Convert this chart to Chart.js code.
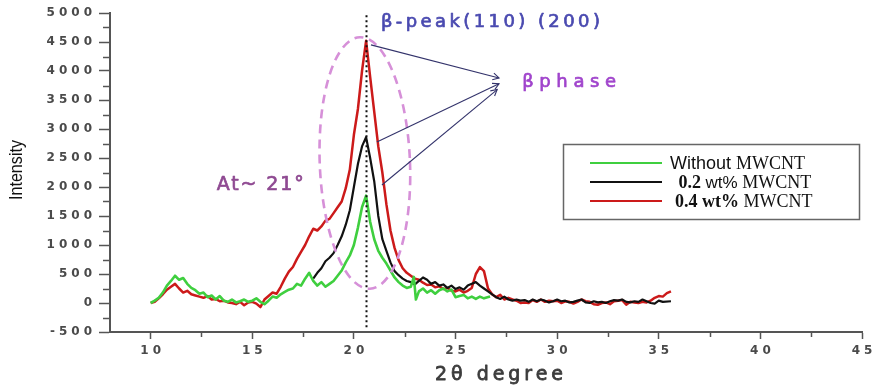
<!DOCTYPE html>
<html><head><meta charset="utf-8">
<script src="https://cdn.jsdelivr.net/npm/chart.js@4/dist/chart.umd.min.js"></script>
<style>html,body{margin:0;padding:0;background:#fff}#wrap{width:874px;height:386px;position:relative}</style>
</head><body><div id="wrap"><canvas id="c"></canvas></div>
<script>
// ---- data ----
const seriesNames = ['Without MWCNT', '0.2 wt% MWCNT', '0.4 wt% MWCNT'];
const xTickValues = [10, 15, 20, 25, 30, 35, 40, 45];
const yTickValues = [-500, 0, 500, 1000, 1500, 2000, 2500, 3000, 3500, 4000, 4500, 5000];

const greenAngle = [10.0,10.2,10.4,10.6,10.8,11.0,11.2,11.4,11.6,11.8,12.0,12.2,12.4,12.6,12.8,13.0,13.2,13.4,13.6,13.8,14.0,14.2,14.4,14.6,14.8,15.0,15.2,15.4,15.6,15.8,16.0,16.2,16.4,16.6,16.8,17.0,17.2,17.4,17.6,17.8,18.0,18.2,18.4,18.6,18.8,19.0,19.2,19.4,19.6,19.8,20.0,20.2,20.4,20.6,20.8,21.0,21.2,21.4,21.6,21.8,22.0,22.2,22.4,22.6,22.8,22.95,23.05,23.2,23.4,23.6,23.8,24.0,24.2,24.4,24.6,24.8,25.0,25.2,25.4,25.6,25.8,26.0,26.2,26.4,26.7];
const greenIntensity = [0,40,90,180,300,380,470,400,430,330,260,220,160,180,100,130,60,120,40,20,60,10,30,60,20,40,80,20,-20,40,110,90,150,190,230,250,330,300,420,520,380,300,360,280,330,380,470,560,700,820,1000,1300,1650,1850,1400,1100,900,780,680,560,440,360,300,260,280,450,60,200,250,180,220,160,220,250,200,230,100,120,140,80,110,70,110,80,110];

const blackAngle = [18.0,18.2,18.4,18.6,18.8,19.0,19.2,19.4,19.6,19.8,20.0,20.2,20.4,20.6,20.8,21.0,21.2,21.4,21.6,21.8,22.0,22.2,22.4,22.6,22.8,23.0,23.2,23.4,23.6,23.8,24.0,24.2,24.4,24.6,24.8,25.0,25.2,25.4,25.6,25.8,26.0,26.2,26.4,26.6,26.8,27.0,27.2,27.4,27.6,27.8,28.0,28.2,28.4,28.6,28.8,29.0,29.2,29.4,29.6,29.8,30.0,30.2,30.4,30.6,30.8,31.0,31.2,31.4,31.6,31.8,32.0,32.2,32.4,32.6,32.8,33.0,33.2,33.4,33.6,33.8,34.0,34.2,34.4,34.6,34.8,35.0,35.2,35.6];
const blackIntensity = [420,520,600,720,780,860,1000,1150,1350,1600,2000,2400,2700,2860,2500,2100,1500,1100,900,700,550,480,420,380,360,320,380,440,400,330,360,300,320,260,300,240,270,230,300,330,360,300,250,200,150,100,70,110,60,40,60,40,50,20,60,30,60,40,10,30,60,30,40,10,20,40,60,10,0,30,10,20,0,30,50,40,60,20,10,30,20,60,30,0,-10,40,20,30];

const redAngle = [10.0,10.2,10.4,10.6,10.8,11.0,11.2,11.4,11.6,11.8,12.0,12.2,12.4,12.6,12.8,13.0,13.2,13.4,13.6,13.8,14.0,14.2,14.4,14.6,14.8,15.0,15.2,15.4,15.6,15.8,16.0,16.2,16.4,16.6,16.8,17.0,17.2,17.4,17.6,17.8,18.0,18.2,18.4,18.6,18.8,19.0,19.2,19.4,19.6,19.8,20.0,20.2,20.4,20.6,20.8,21.0,21.2,21.4,21.6,21.8,22.0,22.2,22.4,22.6,22.8,23.0,23.2,23.4,23.6,23.8,24.0,24.2,24.4,24.6,24.8,25.0,25.2,25.4,25.6,25.8,26.0,26.2,26.4,26.6,26.8,27.0,27.2,27.4,27.6,27.8,28.0,28.2,28.4,28.6,28.8,29.0,29.2,29.4,29.6,29.8,30.0,30.2,30.4,30.6,30.8,31.0,31.2,31.4,31.6,31.8,32.0,32.2,32.4,32.6,32.8,33.0,33.2,33.4,33.6,33.8,34.0,34.2,34.4,34.6,34.8,35.0,35.2,35.4,35.6];
const redIntensity = [0,20,80,150,230,280,330,250,180,210,150,130,110,90,120,60,70,30,40,10,0,-20,20,-40,10,20,-10,-70,60,120,180,160,280,420,540,620,760,880,1000,1150,1280,1250,1320,1420,1450,1550,1650,1750,1980,2300,2900,3350,4000,4520,3900,3300,2700,2250,1700,1250,950,740,600,520,470,420,400,350,310,320,270,290,240,260,210,200,230,180,210,260,500,620,550,250,150,100,140,60,90,60,40,0,10,0,50,20,60,20,40,30,40,0,30,20,-10,20,60,30,20,-20,-30,0,10,-20,30,40,50,-30,20,10,0,20,10,40,90,120,110,170,200];

// ---- annotation anchors (data coordinates) ----
const peakLineX = 20.6;
const arrowStarts = [[20.84, 4450], [21.13, 2776], [21.38, 2034]];
const arrowTargets = [[27.14, 3880], [27.14, 3780], [27.05, 3680]];

const seriesColors = ['#3fcf3f', '#111111', '#cc1a1a'];
const SANS = '"DejaVu Sans", Verdana, sans-serif';

function pts(a, b) { return a.map((x, i) => ({ x: x, y: b[i] })); }

function fitText(ctx, text, x, y, width, font, color, weight) {
  ctx.save();
  ctx.font = font; ctx.fillStyle = color; ctx.strokeStyle = color;
  ctx.letterSpacing = '0px';
  const w = ctx.measureText(text).width;
  const n = [...text].length;
  const ls = n > 1 ? Math.max(0, (width - w) / (n - 1)) : 0;
  ctx.letterSpacing = ls + 'px';
  ctx.textAlign = 'left'; ctx.textBaseline = 'middle';
  ctx.fillText(text, x, y);
  if (weight) { ctx.lineWidth = weight; ctx.lineJoin = 'round'; ctx.strokeText(text, x, y); }
  ctx.restore();
}

const extras = {
  id: 'extras',
  beforeDraw(chart) { chart.ctx.letterSpacing = '4px'; },
  beforeDatasetsDraw(chart) {
    const ctx = chart.ctx, xs = chart.scales.x, ys = chart.scales.y;
    ctx.save();
    ctx.letterSpacing = '0px';
    ctx.strokeStyle = '#555'; ctx.lineWidth = 1.5;
    for (let v = -250; v <= 4750; v += 500) {
      const py = Math.round(ys.getPixelForValue(v)) + 0.5;
      ctx.beginPath(); ctx.moveTo(103, py); ctx.lineTo(110, py); ctx.stroke();
    }
    for (let v = 12.5; v <= 42.5; v += 5) {
      const px = Math.round(xs.getPixelForValue(v)) + 0.5;
      ctx.beginPath(); ctx.moveTo(px, 333); ctx.lineTo(px, 337); ctx.stroke();
    }
    ctx.restore();
  },
  afterDraw(chart) {
    const ctx = chart.ctx, xs = chart.scales.x, ys = chart.scales.y;
    ctx.save();
    ctx.letterSpacing = '0px';
    const X = v => xs.getPixelForValue(v), Y = v => ys.getPixelForValue(v);

    // dashed ellipse
    ctx.save();
    ctx.strokeStyle = '#d690d8'; ctx.lineWidth = 2.6; ctx.setLineDash([9, 6]);
    ctx.beginPath();
    const cx = X(20.54), cy = Y(2414);
    const rx = X(20.54 + 2.22) - cx, ry = Y(2414) - Y(2414 + 2170);
    ctx.ellipse(cx, cy, rx, ry, -0.04, 0, Math.PI * 2);
    ctx.stroke();
    ctx.restore();

    // dotted vertical line
    ctx.save();
    ctx.strokeStyle = '#111'; ctx.lineWidth = 2; ctx.setLineDash([2, 3]);
    ctx.beginPath();
    ctx.moveTo(Math.round(X(peakLineX)) + 0.5, Y(4960));
    ctx.lineTo(Math.round(X(peakLineX)) + 0.5, Y(-450));
    ctx.stroke();
    ctx.restore();

    // arrows
    ctx.save();
    ctx.strokeStyle = '#33336b'; ctx.lineWidth = 1.1;
    arrowStarts.forEach((s, i) => {
      const t = arrowTargets[i];
      const x0 = X(s[0]), y0 = Y(s[1]), x1 = X(t[0]), y1 = Y(t[1]);
      ctx.beginPath(); ctx.moveTo(x0, y0); ctx.lineTo(x1, y1); ctx.stroke();
      const a = Math.atan2(y1 - y0, x1 - x0);
      ctx.beginPath();
      ctx.moveTo(x1 - 7 * Math.cos(a - 0.5), y1 - 7 * Math.sin(a - 0.5));
      ctx.lineTo(x1, y1);
      ctx.lineTo(x1 - 7 * Math.cos(a + 0.5), y1 - 7 * Math.sin(a + 0.5));
      ctx.stroke();
    });
    ctx.restore();

    // annotation texts
    fitText(ctx, 'β-peak(110) (200)', X(21.33), Y(4845), 219, '18px ' + SANS, '#4a4ab0', 0.7);
    fitText(ctx, 'βphase', X(28.28), Y(3810), 94, '18px ' + SANS, '#a044cc', 0.7);
    fitText(ctx, 'At~ 21°', X(13.25), Y(2034), 87, '19px ' + SANS, '#8f4a92', 0.7);

    // axis titles
    fitText(ctx, '2θ degree', 435, 375, 128, '19px ' + SANS, '#3c3c3c', 0.8);
    ctx.save();
    ctx.translate(17, 170); ctx.rotate(-Math.PI / 2);
    ctx.font = '18px "Liberation Sans", Arial, sans-serif';
    const wI = ctx.measureText('Intensity').width;
    ctx.scale(60 / wI, 1);
    ctx.fillStyle = '#111'; ctx.textAlign = 'center'; ctx.textBaseline = 'middle';
    ctx.fillText('Intensity', 0, 0);
    ctx.restore();

    // legend
    ctx.save();
    ctx.strokeStyle = '#666'; ctx.lineWidth = 1.5;
    ctx.strokeRect(563.5, 144.5, 296, 75);
    const rowsY = [163, 182, 201];
    const serif = '"Liberation Serif", "Times New Roman", serif';
    const rows = [
      [{ t: 'Without ', f: '18px "Liberation Sans", Arial, sans-serif' }, { t: 'MWCNT', f: '18px ' + serif }],
      [{ t: ' 0.2 ', f: 'bold 18px ' + serif }, { t: 'wt% ', f: '17px "Liberation Sans", Arial, sans-serif' }, { t: 'MWCNT', f: '18px ' + serif }],
      [{ t: '0.4 wt%', f: 'bold 18px ' + serif }, { t: ' MWCNT', f: '18px ' + serif }]
    ];
    const rowStart = [670, 674, 675];
    chart.data.datasets.forEach((ds, i) => {
      ctx.strokeStyle = ds.borderColor; ctx.lineWidth = 2;
      ctx.beginPath(); ctx.moveTo(590, rowsY[i]); ctx.lineTo(662, rowsY[i]); ctx.stroke();
      let x = rowStart[i];
      ctx.fillStyle = '#111'; ctx.textBaseline = 'middle'; ctx.textAlign = 'left';
      rows[i].forEach(seg => {
        ctx.font = seg.f; ctx.fillText(seg.t, x, rowsY[i] + 1); x += ctx.measureText(seg.t).width;
      });
    });
    ctx.restore();
    ctx.restore();
  }
};

const datasets = [
  { label: seriesNames[0], data: pts(greenAngle, greenIntensity), borderColor: seriesColors[0], borderWidth: 2.6, order: 0 },
  { label: seriesNames[1], data: pts(blackAngle, blackIntensity), borderColor: seriesColors[1], borderWidth: 2.2, order: 1 },
  { label: seriesNames[2], data: pts(redAngle, redIntensity), borderColor: seriesColors[2], borderWidth: 2.5, order: 2 }
].map(d => Object.assign(d, { pointRadius: 0, tension: 0, fill: false, borderJoinStyle: 'round' }));

const tickFont = { size: 12, weight: 'bold', family: SANS };

new Chart(document.getElementById('c'), {
  type: 'line',
  data: { datasets },
  plugins: [extras],
  options: {
    responsive: true, maintainAspectRatio: false, animation: false, devicePixelRatio: 1,
    layout: { padding: { left: 0, right: 12, top: 13, bottom: 0 } },
    plugins: { legend: { display: false }, tooltip: { enabled: false } },
    scales: {
      x: {
        type: 'linear', min: 8, max: 45,
        afterBuildTicks: s => { s.ticks = xTickValues.map(v => ({ value: v })); },
        afterFit: s => { s.height = 54; s.paddingLeft = 0; s.paddingRight = 0; },
        border: { display: true, color: '#555', width: 2 },
        grid: { drawOnChartArea: false, drawTicks: true, tickLength: 7, color: '#555', tickWidth: 1.5 },
        ticks: { font: tickFont, color: '#4a4a4a', padding: 5, labelOffset: 2, maxRotation: 0, autoSkip: false, callback: v => String(v) }
      },
      y: {
        type: 'linear', min: -500, max: 5000,
        afterBuildTicks: s => { s.ticks = yTickValues.map(v => ({ value: v })); },
        afterFit: s => { s.width = 110; s.paddingTop = 0; s.paddingBottom = 0; },
        border: { display: true, color: '#555', width: 2 },
        grid: { drawOnChartArea: false, drawTicks: true, tickLength: 11, color: '#555', tickWidth: 1.5 },
        ticks: { font: tickFont, color: '#4a4a4a', padding: 3, autoSkip: false, callback: v => String(v) }
      }
    }
  }
});
</script>
</body></html>
